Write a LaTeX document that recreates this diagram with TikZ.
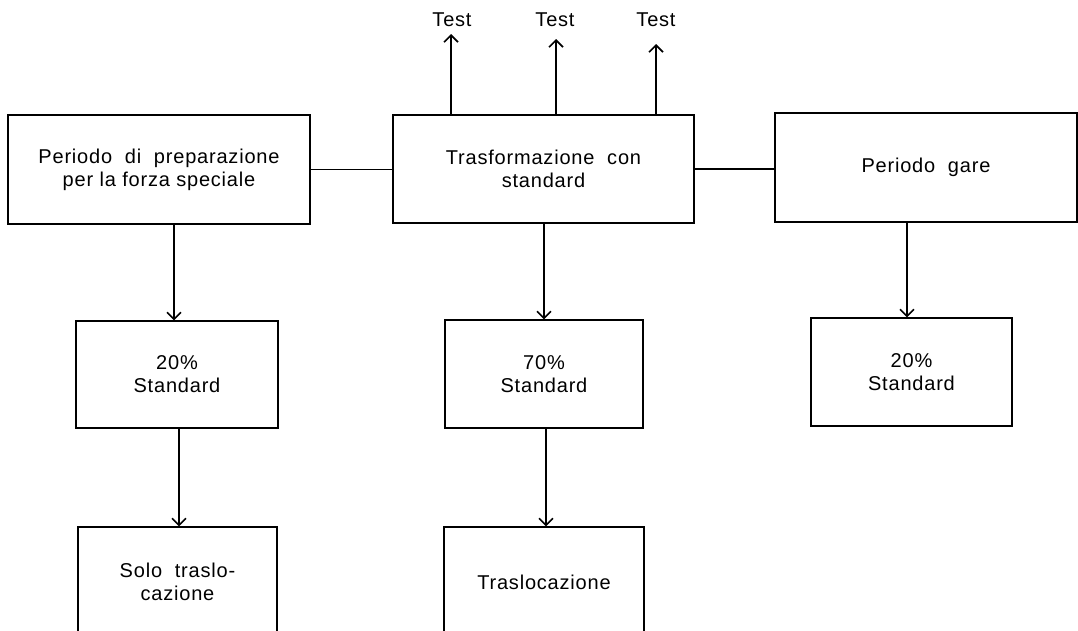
\documentclass[tikz,border=0pt]{standalone}
\usepackage{fontspec}
\setmainfont[LetterSpace=4]{Liberation Sans}
\usetikzlibrary{arrows.meta}
\tikzset{
  box/.style={draw, line width=1.2pt, rectangle, inner sep=0pt, align=center,
              font=\fontsize{20}{23}\selectfont},
  flow/.style={line width=1.6pt, -{Straight Barb[length=7pt,width=14pt,line width=1.6pt]}},
  link/.style={line width=1.3pt},
  lbl/.style={font=\fontsize{20}{22}\selectfont, inner sep=0pt}
}
\begin{document}
\begin{tikzpicture}[x=1pt,y=-1pt]
  \useasboundingbox (0,0) rectangle (1078,630);
  \clip (0,0) rectangle (1078,630);

  % top row of phases
  \node[box, minimum width=302pt, minimum height=109pt] (A) at (159,169.5)
    {Periodo \ di \ preparazione\\per la forza speciale};
  \node[box, minimum width=301pt, minimum height=108pt] (B) at (543.5,169)
    {Trasformazione \ con\\standard};
  \node[box, minimum width=302pt, minimum height=109pt] (C) at (926,167.5)
    {Periodo \ gare};

  % percentage boxes
  \node[box, minimum width=202pt, minimum height=107pt] (D) at (177,374.5)
    {20\%\\Standard};
  \node[box, minimum width=198pt, minimum height=108pt] (E) at (544,374)
    {70\%\\Standard};
  \node[box, minimum width=201pt, minimum height=108pt] (F) at (911.5,372)
    {20\%\\Standard};

  % bottom boxes, running off the lower edge
  \node[box, minimum width=199pt, minimum height=110pt] (G) at (177.5,582)
    {Solo \ traslo-\\cazione};
  \node[box, minimum width=200pt, minimum height=110pt] (H) at (544,582)
    {Traslocazione};

  % test labels
  \node[lbl] (t1) at (452,20) {Test};
  \node[lbl] (t2) at (555,20) {Test};
  \node[lbl] (t3) at (656,20) {Test};
  \coordinate (tip1) at (451,34);
  \coordinate (tip2) at (556,39);
  \coordinate (tip3) at (656,44);

  % horizontal links
  \draw[link] (A.east) -- (A.east -| B.west);
  \draw[link] (B.east) -- (B.east -| C.west);

  % test arrows
  \draw[flow] (tip1 |- B.north) -- (tip1);
  \draw[flow] (tip2 |- B.north) -- (tip2);
  \draw[flow] (tip3 |- B.north) -- (tip3);

  % downward arrows
  \draw[flow] ([xshift=-3pt]D.north |- A.south) -- ([xshift=-3pt]D.north);
  \draw[flow] ([xshift=2pt]D.south) -- ([xshift=2pt]D.south |- G.north);
  \draw[flow] (E.north |- B.south) -- (E.north);
  \draw[flow] ([xshift=2pt]E.south) -- ([xshift=2pt]E.south |- H.north);
  \draw[flow] ([xshift=-4.5pt]F.north |- C.south) -- ([xshift=-4.5pt]F.north);
\end{tikzpicture}
\end{document}
